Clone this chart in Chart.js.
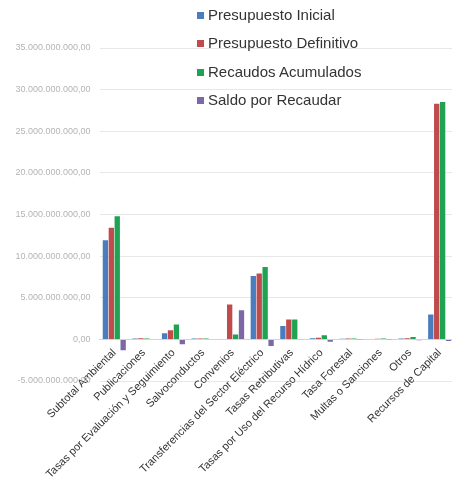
<!DOCTYPE html>
<html>
<head>
<meta charset="utf-8">
<script src="https://cdn.jsdelivr.net/npm/chart.js@4/dist/chart.umd.min.js"></script>
<style>
  html, body { margin: 0; padding: 0; background: #fff; overflow: hidden; }
  #wrap { position: relative; width: 456px; height: 478px; }
  #legend { position: absolute; left: 197px; top: 1px; font-family: "Liberation Sans", Arial, sans-serif; font-size: 15px; color: #333; }
  #legend div { height: 28.3px; line-height: 28px; white-space: nowrap; }
  #legend span { display: inline-block; width: 7px; height: 7px; margin-right: 4px; vertical-align: 1px; }
</style>
</head>
<body>
<div id="wrap">
  <canvas id="grafico" width="456" height="478"></canvas>
  <div id="legend"></div>
</div>
<script>
const categorias = ['Subtotal Ambiental', 'Publicaciones', 'Tasas por Evaluación y Seguimiento', 'Salvoconductos',
    'Convenios', 'Transferencias del Sector Eléctrico', 'Tasas Retributivas', 'Tasas por Uso del Recurso Hídrico',
    'Tasa Forestal', 'Multas o Sanciones', 'Otros', 'Recursos de Capital'];

// valores en miles de millones
const presupuestoInicial    = [11.9, 0.12, 0.75, 0.1, 0, 7.6, 1.6, 0.15, 0.08, 0.06, 0.12, 3.0];
const presupuestoDefinitivo = [13.4, 0.15, 1.1, 0.12, 4.2, 7.9, 2.4, 0.2, 0.1, 0.08, 0.15, 28.3];
const recaudosAcumulados    = [14.8, 0.1, 1.8, 0.1, 0.6, 8.7, 2.4, 0.5, 0.1, 0.1, 0.3, 28.5];
const saldoPorRecaudar      = [-1.3, 0.05, -0.6, 0.05, 3.5, -0.8, 0.05, -0.3, 0.02, 0.02, -0.1, -0.2];

const series = [
    { nombre: 'Presupuesto Inicial', datos: presupuestoInicial, color: '#4a7dbd' },
    { nombre: 'Presupuesto Definitivo', datos: presupuestoDefinitivo, color: '#bf4b4d' },
    { nombre: 'Recaudos Acumulados', datos: recaudosAcumulados, color: '#1fa352' },
    { nombre: 'Saldo por Recaudar', datos: saldoPorRecaudar, color: '#7c68a6' }
];

function formato(v) {
    const neg = v < 0;
    const s = Math.abs(Math.round(v)).toString().replace(/\B(?=(\d{3})+(?!\d))/g, '.');
    return (neg ? '-' : '') + s + ',00';
}

document.getElementById('legend').innerHTML = series.map(s =>
    '<div><span style="background:' + s.color + '"></span>' + s.nombre + '</div>').join('');

const ctx = document.getElementById('grafico').getContext('2d');
new Chart(ctx, {
    type: 'bar',
    data: {
        labels: categorias,
        datasets: series.map(s => ({
            label: s.nombre,
            data: s.datos.map(v => v * 1e9),
            backgroundColor: s.color,
            borderWidth: 0
        }))
    },
    options: {
        responsive: false,
        animation: false,
        layout: { padding: { top: 48, bottom: 97, left: 0, right: 0 } },
        plugins: {
            legend: { display: false },
            tooltip: { enabled: false }
        },
        scales: {
            x: {
                position: { y: 0 },
                grid: { display: false, drawTicks: false },
                border: { color: '#d4d4d4' },
                ticks: {
                    autoSkip: false,
                    maxRotation: 45,
                    minRotation: 45,
                    padding: 7,
                    color: '#333',
                    font: { family: '"Liberation Sans", Arial, sans-serif', size: 11 }
                }
            },
            y: {
                min: -5e9,
                max: 35e9,
                afterFit: s => { s.width = 99.5; },
                grid: { color: '#e8e8e8', drawTicks: false },
                border: { display: false },
                ticks: {
                    stepSize: 5e9,
                    padding: 9,
                    color: '#b4b4b4',
                    font: { family: '"Liberation Sans", Arial, sans-serif', size: 9 },
                    callback: v => formato(v)
                }
            }
        }
    }
});
</script>
</body>
</html>
